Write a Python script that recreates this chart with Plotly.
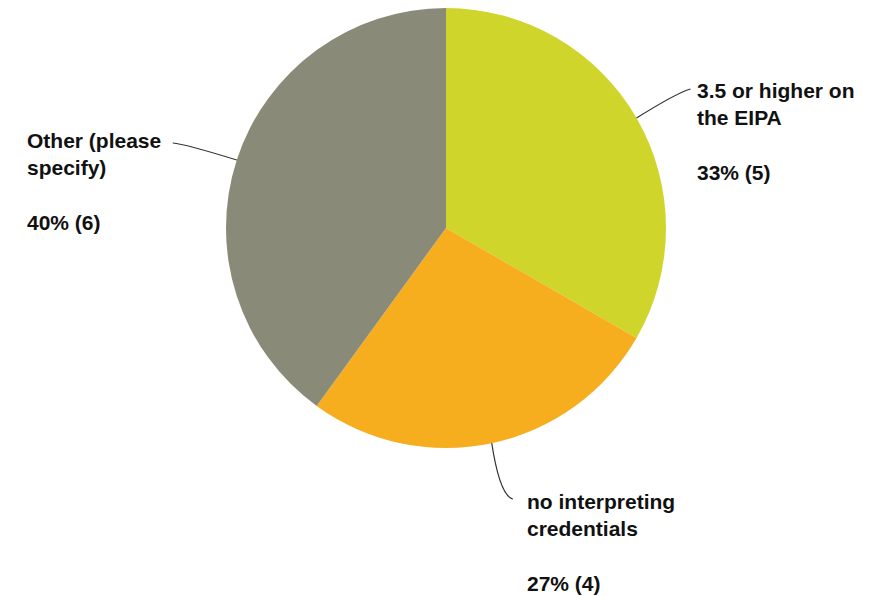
import math
import plotly.graph_objects as go

# Data
categories = ["3.5 or higher on the EIPA", "no interpreting credentials", "Other (please specify)"]
label_lines = [["3.5 or higher on", "the EIPA"], ["no interpreting", "credentials"], ["Other (please", "specify)"]]
counts = [5, 4, 6]
colors = ["#CFD52A", "#F6AE1F", "#8A8A79"]

W, H = 883, 596
OFF = 8  # page body margin offset
CX, CY, R = 446 - OFF, 228 - OFF, 220  # pie centre / radius in pixels

def px(x):
    return x / W

def py(y):
    return min(1.0, max(0.0, 1 - y / H))

fig = go.Figure()
fig.add_trace(go.Pie(
    labels=categories,
    values=counts,
    sort=False,
    direction="clockwise",
    rotation=0,
    marker=dict(colors=colors, line=dict(width=0)),
    textinfo="none",
    hoverinfo="label+percent+value",
    showlegend=False,
    domain=dict(x=[px(CX - R), px(CX + R)], y=[py(CY + R), py(CY - R)]),
))

# leader-line styling per slice: end offset, control offset (from end), label offset, label anchor
styles = [
    dict(end=(54, -29), ctrl=(-14, 4), lab=(4, -12), anchor="left"),
    dict(end=(21, 56), ctrl=(-13, -4), lab=(12, -11), anchor="left"),
    dict(end=(-64, -17), ctrl=(12, 1), lab=(-10, -16), anchor="right"),
]

total = sum(counts)
cum = 0
shapes = []
annotations = []
for lines, c, st in zip(label_lines, counts, styles):
    mid = (cum + c / 2) / total * 2 * math.pi
    cum += c
    sx = CX + R * math.sin(mid)
    sy = CY - R * math.cos(mid)
    ex, ey = sx + st["end"][0], sy + st["end"][1]
    qx, qy = ex + st["ctrl"][0], ey + st["ctrl"][1]
    shapes.append(dict(
        type="path", xref="paper", yref="paper",
        path=f"M {px(sx)},{py(sy)} Q {px(qx)},{py(qy)} {px(ex)},{py(ey)}",
        line=dict(color="#333333", width=1.2),
    ))
    pct = round(100 * c / total)
    text = "<br>".join(lines) + f"<br><br>{pct}% ({c})"
    annotations.append(dict(
        x=px(ex + st["lab"][0]), y=py(ey + st["lab"][1]),
        xref="paper", yref="paper",
        xanchor=st["anchor"], yanchor="top", align="left",
        text=text, showarrow=False,
        font=dict(family="Liberation Sans, Arial, sans-serif", size=21, color="#111111", weight="bold"),
    ))

fig.update_layout(
    width=W, height=H,
    margin=dict(l=0, r=0, t=0, b=0),
    paper_bgcolor="white",
    plot_bgcolor="white",
    shapes=shapes,
    annotations=annotations,
)

fig.write_html("out.html")
